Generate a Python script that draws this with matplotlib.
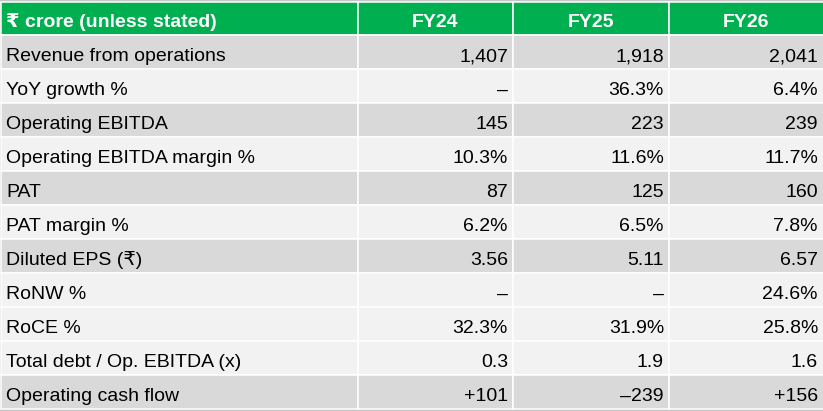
import matplotlib.pyplot as plt
from matplotlib.patches import Rectangle

plt.rcParams['font.family'] = ['Liberation Sans', 'DejaVu Sans']

header = ['₹ crore (unless stated)', 'FY24', 'FY25', 'FY26']
metrics = ['Revenue from operations', 'YoY growth %', 'Operating EBITDA',
           'Operating EBITDA margin %', 'PAT', 'PAT margin %', 'Diluted EPS (₹)',
           'RoNW %', 'RoCE %', 'Total debt / Op. EBITDA (x)', 'Operating cash flow']
fy24 = ['1,407', '–', '145', '10.3%', '87', '6.2%', '3.56', '–', '32.3%', '0.3', '+101']
fy25 = ['1,918', '36.3%', '223', '11.6%', '125', '6.5%', '5.11', '–', '31.9%', '1.9', '–239']
fy26 = ['2,041', '6.4%', '239', '11.7%', '160', '7.8%', '6.57', '24.6%', '25.8%', '1.6', '+156']
shade = ['dark', 'light', 'dark', 'light', 'dark', 'light', 'dark',
         'light', 'light', 'light', 'dark']

W, H = 823, 411
green = '#00b050'
fills = {'dark': '#d9d9d9', 'light': '#f2f2f2'}
col_edges = [1, 358, 513, 669, 826]
top, head_h, row_h = 2, 33, 34

fig = plt.figure(figsize=(W / 100, H / 100), dpi=100)
fig.patch.set_facecolor('#c6c6c6')
ax = fig.add_axes([0, 0, 1, 1])
ax.set_xlim(0, W)
ax.set_ylim(H, 0)
ax.axis('off')

lw = 1.1
fs = 14
# header row
for c in range(4):
    x0, x1 = col_edges[c], col_edges[c + 1]
    ax.add_patch(Rectangle((x0, top), x1 - x0, head_h, facecolor=green,
                           edgecolor='white', linewidth=lw))
    if c == 0:
        ax.text(x0 + 5, top + 25, header[c], color='white', fontsize=fs,
                fontweight='bold', ha='left', va='baseline')
    else:
        ax.text((x0 + min(x1, W)) / 2, top + 25, header[c], color='white',
                fontsize=fs, fontweight='bold', ha='center', va='baseline')

# body rows
cols = [metrics, fy24, fy25, fy26]
for r in range(len(metrics)):
    y0 = top + head_h + r * row_h
    for c in range(4):
        x0, x1 = col_edges[c], col_edges[c + 1]
        ax.add_patch(Rectangle((x0, y0), x1 - x0, row_h, facecolor=fills[shade[r]],
                               edgecolor='white', linewidth=lw))
        if c == 0:
            ax.text(x0 + 5, y0 + 26, cols[c][r], color='black', fontsize=fs,
                    ha='left', va='baseline')
        else:
            ax.text(min(x1, W) - 5, y0 + 26, cols[c][r], color='black',
                    fontsize=fs, ha='right', va='baseline')

fig.savefig('out.png', dpi=100, facecolor=fig.get_facecolor())
